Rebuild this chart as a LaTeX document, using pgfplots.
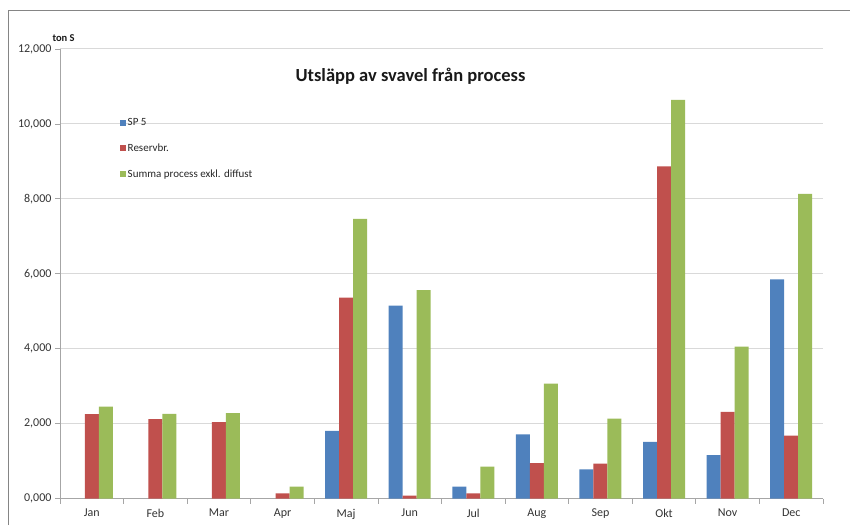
\documentclass[border=0pt]{standalone}
\usepackage{pgfplots}
\pgfplotsset{compat=1.18}
\usepackage{fontspec}
\setmainfont{Carlito}

\definecolor{sp5}{HTML}{4F81BD}
\definecolor{resbr}{HTML}{C0504D}
\definecolor{summa}{HTML}{9BBB59}
\definecolor{gridgray}{HTML}{D9D9D9}
\definecolor{axisgray}{HTML}{A6A6A6}

\begin{document}
\begin{tikzpicture}
\useasboundingbox (0pt,0pt) rectangle (850pt,525pt);
% outer chart frame (left and top edges)
\draw[color=axisgray!80!black, line width=1pt] (8pt,0pt) -- (8pt,514pt) -- (850pt,514pt);

\begin{axis}[
  at={(60pt,26.5pt)}, anchor=south west,
  scale only axis, width=763pt, height=449.5pt,
  ymin=0, ymax=12000, xmin=-0.5, xmax=11.5,
  scaled y ticks=false,
  axis x line*=bottom, axis y line*=left,
  axis line style={color=axisgray, line width=0.8pt},
  ytick={0,2000,4000,6000,8000,10000,12000},
  yticklabels={{0,000},{2,000},{4,000},{6,000},{8,000},{10,000},{12,000}},
  ymajorgrids, grid style={color=gridgray, line width=1pt},
  xtick={0,1,...,11},
  xticklabels={Jan,Feb,Mar,Apr,Maj,Jun,Jul,Aug,Sep,Okt,Nov,Dec},
  minor xtick={-0.5,0.5,...,11.5},
  major x tick style={draw=none},
  minor x tick style={color=axisgray, line width=0.8pt},
  y tick style={color=axisgray, line width=0.8pt},
  tick align=outside, major tick length=5pt, minor tick length=5pt,
  ticklabel style={font=\fontsize{12}{13}\selectfont, text=black!80},
  xticklabel style={yshift=-2pt},
  ybar=0pt, bar width=14pt,
  legend style={at={(0.078,0.850)}, anchor=north west, draw=none, fill=none,
    font=\fontsize{11}{12}\selectfont, row sep=12.5pt, inner sep=0pt,
    text=black!85},
  legend cell align=left,
  legend image code/.code={\fill[#1,draw=none] (0pt,-3pt) rectangle (6pt,3pt);},
]
\addplot[fill=sp5, draw=none] coordinates {
  (4,1805) (5,5150) (6,320) (7,1715) (8,780) (9,1510) (10,1160) (11,5850)};
\addlegendentry{SP 5}
\addplot[fill=resbr, draw=none] coordinates {
  (0,2250) (1,2120) (2,2040) (3,135) (4,5360) (5,80) (6,135) (7,945)
  (8,930) (9,8865) (10,2315) (11,1680)};
\addlegendentry{Reservbr.}
\addplot[fill=summa, draw=none] coordinates {
  (0,2455) (1,2260) (2,2280) (3,320) (4,7465) (5,5560) (6,850) (7,3070)
  (8,2135) (9,10645) (10,4055) (11,8130)};
\addlegendentry{Summa process exkl. diffust}
\end{axis}

\node[font=\bfseries\fontsize{18.5}{20}\selectfont, text=black!90] at (410.5pt,449pt) {Utsläpp av svavel från process};
\node[font=\bfseries\fontsize{10.5}{12}\selectfont, text=black!90, anchor=west] at (49pt,487pt) {ton S};
\end{tikzpicture}
\end{document}
